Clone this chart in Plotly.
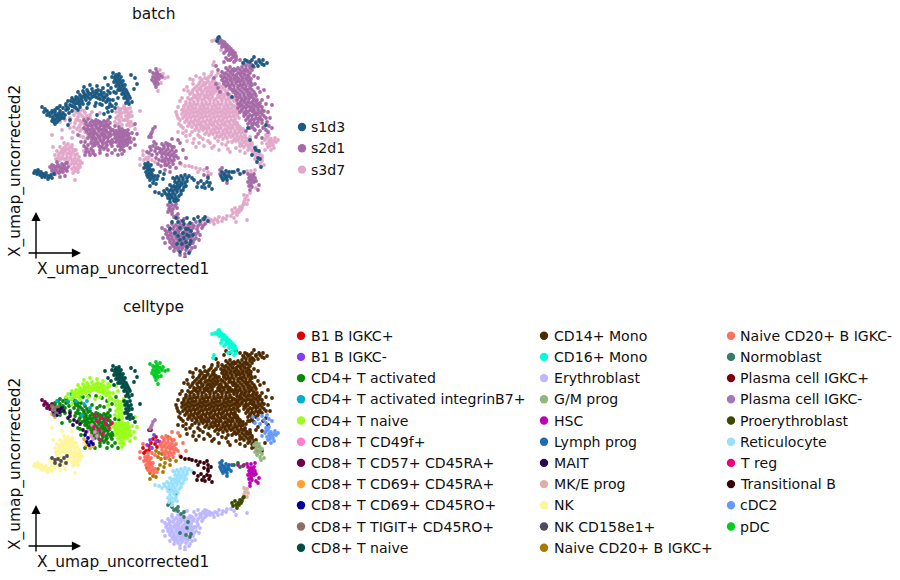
import plotly.graph_objects as go

# Embedding coordinates, as (x, y) pairs per cell type and batch
cd14_s3 = [(205,78),(209,77),(213,79),(200,82),(204,83),(208,81),(212,82),(216,83),(197,86),(201,87),(205,85),(209,87),(213,86),(217,85),(221,87),
(193,90),(197,91),(201,90),(205,89),(209,91),(213,90),(217,89),(221,91),(225,90),(229,89),(190,94),(194,95),(198,94),(202,93),(206,95),(210,94),(214,93),(218,95),(222,94),(226,93),(230,95),(233,92),
(188,98),(192,99),(196,98),(200,97),(204,99),(208,98),(212,97),(216,99),(220,98),(224,97),(228,99),(232,98),(235,97),(186,102),(190,103),(194,102),(198,101),(202,103),(206,102),(210,101),(214,103),(218,102),(222,101),(226,103),(230,102),(234,101),(237,103),
(184,106),(188,107),(192,106),(196,105),(200,107),(204,106),(208,105),(212,107),(216,106),(220,105),(224,107),(228,106),(232,105),(236,107),(182,110),(186,111),(190,110),(194,109),(198,111),(202,110),(206,109),(210,111),(214,110),(218,109),(222,111),(226,110),(230,109),(234,111),(238,110),
(182,114),(186,115),(190,114),(194,113),(198,115),(202,114),(206,113),(210,115),(214,114),(218,113),(222,115),(226,114),(230,113),(234,115),(238,114),(183,118),(187,119),(191,118),(195,117),(199,119),(203,118),(207,117),(211,119),(215,118),(219,117),(223,119),(227,118),(231,117),(235,119),(239,118),
(185,122),(189,123),(193,122),(197,121),(201,123),(205,122),(209,121),(213,123),(217,122),(221,121),(225,123),(229,122),(233,121),(237,123),(188,126),(192,127),(196,126),(200,125),(204,127),(208,126),(212,125),(216,127),(220,126),(224,125),(228,127),(232,126),(236,125),(240,127),
(195,130),(199,131),(203,130),(207,129),(211,131),(215,130),(219,129),(223,131),(227,130),(231,129),(235,131),(239,130),(243,129),(205,134),(209,135),(213,134),(217,133),(221,135),(225,134),(229,133),(233,135),(237,134),(241,133),(245,135),(215,138),(219,137),(223,139),(227,138),(231,137),(235,139),(239,138),(243,137),(247,139),(250,137),
(232,142),(236,141),(240,143),(244,142),(248,141),(252,143),(240,146),(244,147),(248,146),(252,145),(256,147),(248,150),(252,151),(256,150),(258,153),(254,154),
(190,135),(194,139),(200,137),(186,131),(208,141),(214,146),(178,107),(182,98),(188,91),(193,84),(200,78),(226,145),(236,148),(222,144)]
cd14_s3b = [(207,79),(211,75),(202,80),(206,83),(210,84),(214,81),(199,84),(203,85),(207,88),(211,88),(215,84),(219,84),(195,88),(199,89),(203,92),(207,92),(211,92),(215,88),(219,92),(223,88),(227,92),
(192,92),(196,96),(200,95),(204,96),(208,96),(212,95),(216,91),(220,96),(224,95),(228,96),(190,100),(194,97),(198,99),(202,100),(206,97),(210,99),(214,100),(218,97),(222,99),(226,100),(230,98),(234,99),
(186,104),(190,105),(194,104),(198,104),(202,105),(206,104),(210,104),(214,105),(218,104),(222,104),(226,105),(230,104),(234,106),(184,108),(188,109),(192,108),(196,108),(200,109),(204,108),(208,108),(212,109),(216,108),(220,108),(224,109),(228,108),(232,108),(236,109),
(184,112),(188,113),(192,112),(196,112),(200,113),(204,112),(208,112),(212,113),(216,112),(220,112),(224,113),(228,112),(232,112),(236,112),(185,116),(189,117),(193,116),(197,116),(201,117),(205,116),(209,116),(213,117),(217,116),(221,116),(225,117),(229,116),(233,116),(237,116),
(187,120),(191,121),(195,120),(199,120),(203,121),(207,120),(211,120),(215,121),(219,120),(223,120),(227,121),(231,120),(235,121),(190,124),(194,124),(198,124),(202,125),(206,124),(210,124),(214,125),(218,124),(222,124),(226,125),(230,124),(234,124),(238,125),
(197,128),(201,128),(205,128),(209,128),(213,129),(217,128),(221,128),(225,129),(229,128),(233,128),(237,128),(241,129),(207,132),(211,133),(215,132),(219,132),(223,133),(227,132),(231,132),(235,133),(239,132),(243,132),(217,136),(221,136),(225,136),(229,135),(233,136),(237,136),(241,136),(245,137),(234,140),(238,140),(242,140),(246,140),(250,140),(242,145),(246,144),(250,144),(254,148),(250,148),
(180,120),(177,115),(179,124),(183,128),(192,132),(198,135),(203,139),(210,143),(218,141),(228,142),(204,74),(216,76),(224,84),(193,80),(187,87)]
cd14_s3c = [(176,112),(178,118),(181,126),(186,136),(193,143),(199,143),(204,146),(212,148),(219,150),(228,149),(240,151),(196,76),(190,79),(184,90),(180,101),(212,72),(218,73),(224,78),(178,132),(183,133),(187,141),(196,147),(230,152),(245,153),(262,158),(265,150)]
cd14_s2 = [(244,64),(248,63),(252,65),(256,62),(226,68),(230,67),(234,69),(238,68),(242,67),(246,69),(250,68),(254,67),(222,72),(226,73),(230,72),(234,71),(238,73),(242,72),(246,71),(250,73),
(221,76),(225,77),(229,76),(233,75),(237,77),(241,76),(245,75),(249,77),(222,80),(226,81),(230,80),(234,79),(238,81),(242,80),(246,79),(250,81),(224,84),(228,85),(232,84),(236,83),(240,85),(244,84),(248,83),(252,85),
(230,88),(234,89),(238,88),(242,87),(246,89),(250,88),(234,92),(238,93),(242,92),(246,91),(250,93),(254,92),(236,96),(240,97),(244,96),(248,95),(252,97),(256,96),(237,100),(241,101),(245,100),(249,99),(253,101),(257,100),
(238,104),(242,105),(246,104),(250,103),(254,105),(258,104),(238,108),(242,109),(246,108),(250,107),(254,109),(258,108),(262,107),(240,112),(244,113),(248,112),(252,111),(256,113),(260,112),(264,111),
(244,116),(248,117),(252,116),(256,115),(260,117),(264,116),(246,120),(250,121),(254,120),(258,119),(262,120),(248,124),(252,125),(256,124),(250,128),(254,129),(268,112),(270,118),(272,105),(263,128),(258,134),(246,131),(216,66),(214,78),(220,92),(228,94),(236,58)]
cd14_s2b = [(246,66),(250,66),(228,70),(232,70),(236,70),(240,70),(244,70),(248,71),(252,70),(224,74),(228,75),(232,74),(236,75),(240,74),(244,74),(248,75),(223,78),(227,79),(231,78),(235,78),(239,79),(243,78),(247,78),(251,79),
(224,82),(228,83),(232,82),(236,81),(240,82),(244,82),(248,81),(251,83),(226,86),(230,86),(234,86),(238,86),(242,85),(246,86),(250,86),(232,90),(236,91),(240,90),(244,89),(248,90),(252,90),(236,94),(240,95),(244,94),(248,93),(252,95),(255,94),
(238,98),(242,99),(246,98),(250,97),(254,99),(240,103),(244,102),(248,102),(252,103),(256,102),(260,103),(240,106),(244,107),(248,106),(252,107),(256,106),(260,106),(242,110),(246,111),(250,110),(254,111),(258,110),(262,110),(246,114),(250,115),(254,114),(258,114),(262,114),(248,118),(252,119),(256,118),(260,119),(250,122),(254,123),(258,122),(252,127)]
cd14_s2c = [(262,100),(266,104),(268,97),(264,90),(260,92),(255,84),(258,88),(224,62),(226,58),(218,70),(216,84),(218,88),(268,132),(262,138),(256,137),(266,118),(254,76),(258,78),(230,60),(240,60)]
cd14_s1 = [(243,63),(247,61),(252,60),(256,63),(260,62),(264,65),(267,63),(253,66),(258,66),(263,60),(254,57),(232,97),(250,140),(248,128),(255,148),(258,158),(266,125),(252,155),(245,60),(250,62),(262,64),(259,60)]
cd16_s2 = [(218,40),(220,39),(222,41),(219,43),(222,44),(225,43),(224,46),(227,45),(222,47),(226,48),(229,47),(228,50),(231,49),(226,51),(230,53),(233,51),(232,54),(235,53),(229,55),(233,57),(236,56),(231,59),(236,60),(234,62),(228,60),(224,53),(221,42),(224,42),(226,46),(228,48),(230,51),(232,52),(234,55)]
cd16_s1 = [(218,38),(217,41),(219,37)]
cd16_s3 = [(212,41),(215,40),(221,50),(213,65),(214,62)]
cdc2_s3 = [(265,140),(268,137),(271,139),(274,141),(278,140),(267,144),(270,143),(273,145),(268,147),(271,150),(266,135),(269,134),(275,138),(262,143),(274,148),(266,138),(269,141),(272,142),(276,142),(270,146)]
cdc2_s2 = [(253,124),(258,126),(262,123),(266,130),(260,131),(264,127),(267,122),(269,126),(255,130),(272,128)]
gm_s3 = [(254,152),(257,153),(260,154),(256,156),(259,157),(262,156),(255,159),(258,160),(262,161),(264,165),(260,164)]
gm_s1 = [(256,150),(259,151),(260,159),(257,162),(261,167)]
hsc_s2 = [(248,174),(251,175),(254,174),(249,178),(252,179),(255,178),(248,182),(251,183),(254,182),(249,186),(252,187),(250,190),(253,176),(256,181),(250,177),(253,181),(250,180),(251,185),(258,190),(259,185)]
hsc_s3 = [(238,172),(243,173),(247,171),(251,171),(255,170),(250,193),(256,188)]
lymph_s1 = [(222,172),(226,171),(229,172),(221,176),(225,175),(229,176),(223,180),(227,180),(231,178),(232,172),(224,174),(227,177),(225,178),(222,178)]
lymph_s2 = [(220,170),(224,174),(228,174),(224,178),(220,174),(227,183),(222,168)]
prog_green_s1 = [(234,172),(238,170),(240,174),(244,172)]
mke_s3 = [(244,195),(247,196),(245,199),(248,200),(244,202),(247,204)]
proery_s3 = [(233,213),(236,212),(238,210),(235,208),(240,207),(243,205),(241,210),(237,215),(244,204),(232,210),(239,212),(242,208)]
trans_s3 = [(192,167),(196,168),(200,169),(204,170),(208,172),(211,174),(198,172),(181,164),(185,166),(189,166)]
trans_s1 = [(198,183),(201,181),(204,184),(207,182),(209,186),(205,188),(202,187),(208,178),(210,183),(194,180),(197,187),(212,189)]
trans_s2 = [(204,175),(208,176),(207,168)]
ery_s2 = [(168,226),(172,224),(176,225),(180,224),(184,227),(188,225),(192,224),(196,222),(200,224),(165,230),(169,231),(173,229),(177,230),(181,229),(185,231),(189,230),(193,228),(197,229),(166,234),(170,235),(174,234),(178,233),(182,235),(186,234),(190,233),(194,234),(168,238),(172,239),(176,238),(180,237),(184,239),(188,238),(192,237),(170,242),(174,243),(178,242),(182,241),(186,243),(190,242),(173,246),(177,247),(181,246),(185,245),(189,246),(178,250),(182,249),(186,250),(190,251),(185,254),(203,219),
(170,228),(174,227),(178,227),(182,226),(186,228),(190,227),(194,226),(198,226),(167,232),(171,233),(175,232),(179,231),(183,233),(187,232),(191,231),(168,236),(172,237),(176,236),(180,235),(184,236),(188,236),(192,235),(170,240),(174,241),(178,240),(182,239),(186,240),(190,239),(172,244),(176,245),(180,244),(184,243),(188,244),(175,248),(179,248),(183,247),(187,248),
(198,232),(202,228),(196,238),(193,243),(200,235),(203,226),(205,224),(199,240),(195,247),(192,248),(162,228),(163,238),(165,243),(170,248),(174,251),(180,255),(185,257),(196,234),(194,240)]
ery_s1 = [(178,222),(183,221),(187,218),(190,223),(194,219),(180,228),(186,229),(191,231),(178,236),(184,238),(189,236),(182,244),(187,247),(180,252),(189,253),(176,218),(172,222),(198,217),(205,217),(175,233),(170,229),(193,235),(183,233),(177,244),(200,221),(204,219),(208,221)]
ery_s3 = [(203,220),(207,218),(211,220),(215,219),(219,217),(223,218),(227,216),(206,223),(210,222),(214,224),(218,222),(222,221),(226,219),(231,216),(234,218),(201,223),(205,220),(209,219),(213,221),(217,220),(236,222),(247,220)]
retic_s1 = [(173,178),(177,177),(181,176),(185,175),(189,176),(192,178),(175,182),(179,181),(183,180),(187,181),(170,185),(174,186),(178,185),(182,184),(186,186),(167,189),(171,190),(175,189),(179,188),(183,190),(165,193),(169,194),(173,193),(177,192),(181,194),(155,192),(159,193),(162,195),(168,198),(172,197),(176,198),(170,202),(174,201),(178,200),
(175,179),(179,179),(183,178),(187,178),(177,183),(181,183),(185,183),(172,187),(176,187),(180,186),(184,187),(169,191),(173,191),(177,190),(181,191),(167,195),(171,195),(175,195),(179,196),(164,191),(170,199),(174,199)]
retic_s2 = [(168,205),(172,205),(176,204),(169,209),(173,209),(177,208),(172,212),(170,207),(175,206)]
normo_s2 = [(168,212),(172,214),(176,216),(170,210),(174,217),(178,218),(181,221),(184,219),(178,214)]
normo_s1 = [(170,197),(176,201),(184,224),(188,229),(187,235),(191,241),(186,242),(190,244),(180,240)]
pdc_s2 = [(150,71),(153,73),(157,72),(156,69),(153,77),(157,76),(160,75),(152,80),(156,80),(159,79),(155,84),(158,84),(156,87),(162,77),(155,74),(158,74),(155,78),(158,78),(154,82),(157,82)]
pdc_s3 = [(160,70),(163,74),(165,78),(161,83),(168,77),(158,91)]
plasma_m_s2 = [(150,136),(152,132),(153,129),(155,127),(151,134)]
plasma_r_s2 = [(149,137),(151,137)]
salmon_s2 = [(162,144),(166,143),(170,145),(174,147),(164,148),(168,149),(172,150),(176,151),(160,152),(164,153),(168,154),(172,155),(176,156),(162,157),(166,158),(170,159),(174,160),(178,158),(165,162),(169,163),(173,164),
(164,146),(168,146),(172,147),(162,150),(166,151),(170,152),(174,153),(162,154),(166,155),(170,156),(174,157),(164,160),(168,160),(172,161),(167,165),(180,163),(183,150),(178,140),(172,139),(186,158)]
gold_s2 = [(156,158),(159,160),(162,161),(158,164),(161,166),(165,165),(170,167),(168,144),(180,143),(176,168),(165,170),(170,172)]
red_s2 = [(153,146),(156,144),(158,148),(151,150),(155,151),(149,153),(157,154)]
purple_s2 = [(154,142),(150,147),(156,148),(152,155),(147,152),(160,149)]
salmon_s1 = [(145,164),(148,163),(151,165),(144,168),(147,168),(150,169),(153,170),(146,172),(149,173),(152,174),(155,176),(148,177),(151,178),(154,180),(157,179),(146,166),(149,166),(148,170),(151,171),(150,175),(153,177)]
gold_s1 = [(150,180),(153,183),(156,184),(147,175),(158,176),(163,179),(164,174),(160,172),(150,186)]
red_s3 = [(143,155),(146,158),(149,157),(144,160),(147,165)]
salmon_s3 = [(152,160),(155,162),(143,151),(148,160),(140,159),(140,165)]
teal_s1 = [(113,73),(116,75),(119,74),(112,77),(115,79),(118,78),(121,77),(114,82),(117,83),(120,82),(123,81),(116,86),(119,87),(122,86),(125,85),(120,90),(123,91),(126,90),(122,94),(125,95),(128,94),(124,98),(127,99),(130,98),(126,103),(129,104),(132,102),(108,85),(105,78),(135,78),(137,84),(134,89),(131,75),
(115,77),(118,76),(117,81),(120,80),(119,85),(122,84),(121,89),(124,88),(124,93),(127,92),(126,97),(129,96),(128,101),(118,90),(111,88),(114,92)]
teal_s3 = [(124,108),(127,109),(130,108),(125,112),(128,113),(131,112),(126,116),(129,117),(132,116),(125,120),(128,121),(131,122),(127,125),(130,126),(133,125),(135,129),(140,111),(127,111),(129,115),(127,119),(129,123)]
lime_s1 = [(70,105),(73,102),(76,100),(72,106),(75,104),(78,98),(80,95),(82,97),(79,101),(84,93),(86,95),(88,92),(85,98),(88,97),(91,94),(94,96),(90,99),(93,92),(97,93),(96,97),(99,95),(102,96),(100,99),(103,100),(105,97),(106,102),(108,99),(110,104),(112,106),(104,93),(98,90),(92,89),(87,90),(82,101),(76,97),(107,95),
(74,100),(77,103),(81,99),(84,96),(86,100),(89,94),(92,97),(95,94),(98,98),(101,94),(104,98),(107,101),(109,107),(83,91),(96,91),(101,91),(79,104),(110,100),
(68,101),(72,98),(78,92),(84,87),(90,85),(97,86),(103,88),(108,91),(113,100),(115,108),(66,104),(72,111),(80,107),(88,104),(95,106),(100,104),(108,112),(118,98),(110,93),(116,93)]
lime_s2 = [(113,130),(116,131),(119,130),(122,129),(125,131),(128,130),(114,134),(117,135),(120,134),(123,133),(126,135),(129,134),(132,133),(115,138),(118,139),(121,138),(124,137),(127,139),(130,138),(116,142),(119,143),(122,142),(125,141),(128,143),(131,142),(118,146),(121,147),(124,146),(127,145),(120,150),(124,151),(111,135),(134,139),(122,154),
(115,132),(118,133),(121,132),(124,131),(127,133),(116,136),(119,137),(122,136),(125,135),(128,136),(117,140),(120,141),(123,140),(126,140),(129,140),(120,145),(123,144),(126,143),(122,149),(130,148),(135,145),(137,134),(135,124)]
lime_s3 = [(118,108),(121,109),(124,106),(119,112),(122,113),(125,110),(118,116),(121,117),(123,120),(119,120),(115,122),(118,124),(122,125),(116,112),(120,110),(120,115),(116,118),(120,122)]
green_s2 = [(84,120),(88,119),(92,121),(96,120),(100,122),(104,121),(108,120),(86,124),(90,125),(94,124),(98,123),(102,125),(106,124),(110,123),(84,128),(88,129),(92,128),(96,127),(100,129),(104,128),(108,127),(87,132),(91,133),(95,132),(99,131),(103,133),(107,132),(111,131),(90,136),(94,137),(98,136),(102,135),(106,137),(110,136),(92,140),(96,141),(100,140),(104,139),(108,141),(112,140),(95,145),(99,146),(103,144),(107,145),(111,144),(100,150),(104,149),(108,150),(115,126),(119,127),(112,146),(115,150),
(86,122),(90,123),(94,122),(98,121),(102,123),(106,122),(88,126),(92,126),(96,125),(100,126),(104,126),(108,125),(86,130),(90,130),(94,130),(98,129),(102,130),(106,130),(110,128),(89,134),(93,135),(97,134),(101,134),(105,135),(109,133),(92,138),(96,139),(100,138),(104,137),(108,138),(94,143),(98,143),(102,142),(106,143),(110,142),(102,147),(106,147),(113,142),
(78,135),(81,142),(85,155),(95,155),(100,153),(107,155),(112,153),(118,155)]
green_s1 = [(74,107),(78,110),(83,104),(89,103),(96,103),(102,105),(107,108),(66,110),(63,113),(69,113),(112,111),(116,104),(97,115),(110,117),(104,114),(60,114),(57,116),(65,115),(68,109),(55,110),(58,108),(60,111),(63,108),(66,106),(55,112),(62,118),(60,106)]
green_s3 = [(72,106),(75,110),(78,113),(81,110),(74,115),(78,117),(82,116),(85,113),(76,120),(80,121),(84,118),(80,125),(84,124),(82,129),(85,132),(88,135),(92,112),(100,113),(76,112),(80,114),(78,120),(82,122),(79,127),(86,127),(87,116),(90,118),(60,122),(65,120),(70,118),(75,123),(80,136),(70,128),(62,130)]
treg_s2 = [(97,128),(101,125),(105,131),(99,137),(103,141),(106,126),(94,134),(109,135),(100,147),(95,122),(112,130)]
cd49_s2 = [(92,132),(95,139),(91,143),(97,143),(88,138),(93,146),(86,148)]
navy_s2 = [(85,142),(88,145),(91,149),(87,149),(93,151),(89,152)]
orange_s2 = [(86,152),(90,155),(93,153),(84,146)]
mait_s3 = [(74,127),(77,129),(80,131),(83,137),(86,139),(73,132),(70,123)]
mait_s1 = [(58,117),(62,115),(60,119),(64,118),(70,120),(68,125)]
cyan_s1 = [(57,108),(71,101),(76,108),(80,104),(68,108),(87,108)]
cyan_s3 = [(84,111),(90,115),(82,122)]
maroon_s1 = [(42,107),(45,109),(47,111),(44,112),(49,113),(52,111),(50,116),(47,115),(53,119)]
tigit_s1 = [(52,113),(55,115),(58,114),(53,117),(56,119),(59,120),(54,122)]
navy_s1 = [(54,120),(57,122),(60,116)]
orange_s1 = [(52,121),(55,124)]
nk_s3 = [(64,143),(68,144),(72,145),(60,147),(64,148),(68,149),(72,148),(76,150),(57,151),(61,152),(65,151),(69,153),(73,152),(77,154),(55,155),(59,156),(63,155),(67,157),(71,156),(75,158),(79,157),(56,159),(60,160),(64,159),(68,161),(72,160),(76,162),(80,161),(70,165),(74,164),(78,165),(82,163),(72,169),(76,168),(80,167),(73,173),(78,172),(52,135),(62,138),(72,138),(53,147),(84,151),(75,180),
(66,146),(70,147),(62,150),(66,150),(70,151),(74,150),(59,154),(63,153),(67,154),(71,154),(75,155),(58,158),(62,158),(66,159),(70,158),(74,160),(78,160),(72,163),(76,163),(80,164),(74,167),(78,169),(75,171)]
nk_s2 = [(50,167),(54,166),(58,165),(62,164),(66,163),(52,171),(56,170),(60,169),(64,168),(68,167),(55,174),(59,173),(63,172),(67,171),(60,177),(65,176),(57,162),(52,169),(56,168),(60,167),(64,166),(54,172),(58,172),(62,170),(66,169)]
nk_s1 = [(35,171),(38,170),(41,172),(37,174),(40,175),(43,174),(46,173),(42,177),(45,177),(48,176),(51,175),(54,174),(48,179),(52,178),(34,173),(39,172),(42,174),(45,175),(49,177),(37,172)]
nk158_s2 = [(52,165),(55,167),(58,166),(61,168),(64,165),(67,163),(55,170),(60,172),(66,170)]

batch_names = ["s1d3", "s2d1", "s3d7"]
batch_colors = ["#1c5a82", "#a66aa6", "#e2a8ca"]
type_names = ["B1 B IGKC+", "B1 B IGKC-", "CD4+ T activated", "CD4+ T activated integrinB7+", "CD4+ T naive", "CD8+ T CD49f+", "CD8+ T CD57+ CD45RA+", "CD8+ T CD69+ CD45RA+", "CD8+ T CD69+ CD45RO+", "CD8+ T TIGIT+ CD45RO+", "CD8+ T naive",
              "CD14+ Mono", "CD16+ Mono", "Erythroblast", "G/M prog", "HSC", "Lymph prog", "MAIT", "MK/E prog", "NK", "NK CD158e1+", "Naive CD20+ B IGKC+",
              "Naive CD20+ B IGKC-", "Normoblast", "Plasma cell IGKC+", "Plasma cell IGKC-", "Proerythroblast", "Reticulocyte", "T reg", "Transitional B", "cDC2", "pDC"]
type_colors = ["#e00000", "#8040f0", "#0a870a", "#00aecb", "#99ff1a", "#ff80d0", "#700050", "#ffa030", "#000099", "#8b7060", "#004d45",
               "#4f2a00", "#00ffd5", "#bdb8ff", "#95b57c", "#c000b5", "#1e6bae", "#2a0a4e", "#ddb0a8", "#fff599", "#504860", "#a87800",
               "#ff7060", "#3a7a6a", "#800010", "#a37ab5", "#3b4a00", "#99e0ff", "#ee0077", "#380008", "#6699ff", "#00cc22"]

groups = [("CD14+ Mono","s3d7",cd14_s3),("CD14+ Mono","s3d7",cd14_s3b),("CD14+ Mono","s3d7",cd14_s3c),("CD14+ Mono","s2d1",cd14_s2),("CD14+ Mono","s2d1",cd14_s2b),("CD14+ Mono","s2d1",cd14_s2c),("CD14+ Mono","s1d3",cd14_s1),("CD16+ Mono","s2d1",cd16_s2),("CD16+ Mono","s1d3",cd16_s1),("CD16+ Mono","s3d7",cd16_s3),
("cDC2","s3d7",cdc2_s3),("cDC2","s2d1",cdc2_s2),("G/M prog","s3d7",gm_s3),("G/M prog","s1d3",gm_s1),("HSC","s2d1",hsc_s2),("HSC","s3d7",hsc_s3),("Lymph prog","s1d3",lymph_s1),("Lymph prog","s2d1",lymph_s2),
("CD4+ T activated","s1d3",prog_green_s1),("MK/E prog","s3d7",mke_s3),("Proerythroblast","s3d7",proery_s3),("Transitional B","s3d7",trans_s3),("Transitional B","s1d3",trans_s1),("Transitional B","s2d1",trans_s2),
("Erythroblast","s2d1",ery_s2),("Erythroblast","s1d3",ery_s1),("Erythroblast","s3d7",ery_s3),("Reticulocyte","s1d3",retic_s1),("Reticulocyte","s2d1",retic_s2),("Normoblast","s2d1",normo_s2),("Normoblast","s1d3",normo_s1),
("pDC","s2d1",pdc_s2),("pDC","s3d7",pdc_s3),("Plasma cell IGKC-","s2d1",plasma_m_s2),("Plasma cell IGKC+","s2d1",plasma_r_s2),
("Naive CD20+ B IGKC-","s2d1",salmon_s2),("Naive CD20+ B IGKC+","s2d1",gold_s2),("B1 B IGKC+","s2d1",red_s2),("B1 B IGKC-","s2d1",purple_s2),("Naive CD20+ B IGKC-","s1d3",salmon_s1),("Naive CD20+ B IGKC+","s1d3",gold_s1),("B1 B IGKC+","s3d7",red_s3),("Naive CD20+ B IGKC-","s3d7",salmon_s3),
("CD8+ T naive","s1d3",teal_s1),("CD8+ T naive","s3d7",teal_s3),("CD4+ T naive","s1d3",lime_s1),("CD4+ T naive","s2d1",lime_s2),("CD4+ T naive","s3d7",lime_s3),
("CD4+ T activated","s2d1",green_s2),("CD4+ T activated","s1d3",green_s1),("CD4+ T activated","s3d7",green_s3),("T reg","s2d1",treg_s2),("CD8+ T CD49f+","s2d1",cd49_s2),("CD8+ T CD69+ CD45RO+","s2d1",navy_s2),("CD8+ T CD69+ CD45RA+","s2d1",orange_s2),
("MAIT","s3d7",mait_s3),("MAIT","s1d3",mait_s1),("CD4+ T activated integrinB7+","s1d3",cyan_s1),("CD4+ T activated integrinB7+","s3d7",cyan_s3),("CD8+ T CD57+ CD45RA+","s1d3",maroon_s1),("CD8+ T TIGIT+ CD45RO+","s1d3",tigit_s1),("CD8+ T CD69+ CD45RO+","s1d3",navy_s1),("CD8+ T CD69+ CD45RA+","s1d3",orange_s1),
("NK","s3d7",nk_s3),("NK","s2d1",nk_s2),("NK","s1d3",nk_s1),("NK CD158e1+","s2d1",nk158_s2)]

W, H = 900, 580
X0, X1 = 28, 285
Y0, Y1 = 28, 258
OFFSET = 293
FONT = "DejaVu Sans"
FS_LEGEND = 14.1
FS_AXIS = 15.4

def px(x): return x / W
def py(y): return 1 - y / H

fig = go.Figure()

def add_points(xs, ys, color, name, axis):
    fig.add_trace(go.Scatter(x=xs, y=ys, mode="markers", name=name, xaxis="x" + axis, yaxis="y" + axis,
                             marker=dict(color=color, size=3.8, line=dict(width=0)), showlegend=False, hoverinfo="skip"))

for b in ["s3d7", "s2d1", "s1d3"]:
    pts = [p for t, bb, g in groups if bb == b for p in g]
    add_points([p[0] for p in pts], [p[1] for p in pts], batch_colors[batch_names.index(b)], b, "")

for i, t in enumerate(type_names):
    pts = [p for tt, bb, g in groups if tt == t for p in g]
    add_points([p[0] for p in pts], [p[1] for p in pts], type_colors[i], t, "2")

annotations, shapes = [], []

def text(x, y, s, size, xanchor="left", angle=0):
    annotations.append(dict(x=px(x), y=py(y), xref="paper", yref="paper", text=s, showarrow=False, xanchor=xanchor, yanchor="middle",
                            font=dict(family=FONT, size=size, color="#111111"), textangle=angle))

def dot(x, y, color):
    r = 4.2
    shapes.append(dict(type="circle", xref="paper", yref="paper", x0=px(x - r), x1=px(x + r), y0=py(y + r), y1=py(y - r),
                       fillcolor=color, line=dict(width=0)))

def arrow(x0, y0, x1, y1):
    annotations.append(dict(x=px(x1), y=py(y1), xref="paper", yref="paper", ax=x0 - x1, ay=y0 - y1, axref="pixel", ayref="pixel", text="",
                            showarrow=True, arrowhead=2, arrowsize=1.3, arrowwidth=1.4, arrowcolor="black"))

for off, title in [(0, "batch"), (OFFSET, "celltype")]:
    text(153, 14 + off, title, FS_AXIS, "center")
    text(35, 269 + off, "X_umap_uncorrected1", FS_AXIS)
    text(15, 171 + off, "X_umap_uncorrected2", FS_AXIS, "center", -90)
    arrow(27, 253 + off, 81, 253 + off)
    arrow(36, 260 + off, 36, 212 + off)

for i, n in enumerate(batch_names):
    y = 127 + 21.3 * i
    dot(302, y, batch_colors[i])
    text(309, y, n, FS_LEGEND)

col_x = [(301, 309), (544, 552), (731, 738)]
col_rows = [11, 11, 10]
k = 0
for (dx, tx), rows in zip(col_x, col_rows):
    for r in range(rows):
        y = 335.7 + 21.2 * r
        dot(dx, y, type_colors[k])
        text(tx, y, type_names[k], FS_LEGEND)
        k += 1

hidden = dict(visible=False, showgrid=False, zeroline=False)
fig.update_layout(
    width=W, height=H, autosize=False, margin=dict(l=0, r=0, t=0, b=0), paper_bgcolor="white", plot_bgcolor="white", showlegend=False,
    xaxis=dict(hidden, domain=[px(X0), px(X1)], range=[X0, X1]),
    yaxis=dict(hidden, domain=[py(Y1), py(Y0)], range=[Y1, Y0]),
    xaxis2=dict(hidden, domain=[px(X0), px(X1)], range=[X0, X1], anchor="y2"),
    yaxis2=dict(hidden, domain=[py(Y1 + OFFSET), py(Y0 + OFFSET)], range=[Y1, Y0], anchor="x2"),
    annotations=annotations, shapes=shapes,
)
fig.write_html("out.html", post_script="document.body.style.margin='0';", config={"displayModeBar": False})
